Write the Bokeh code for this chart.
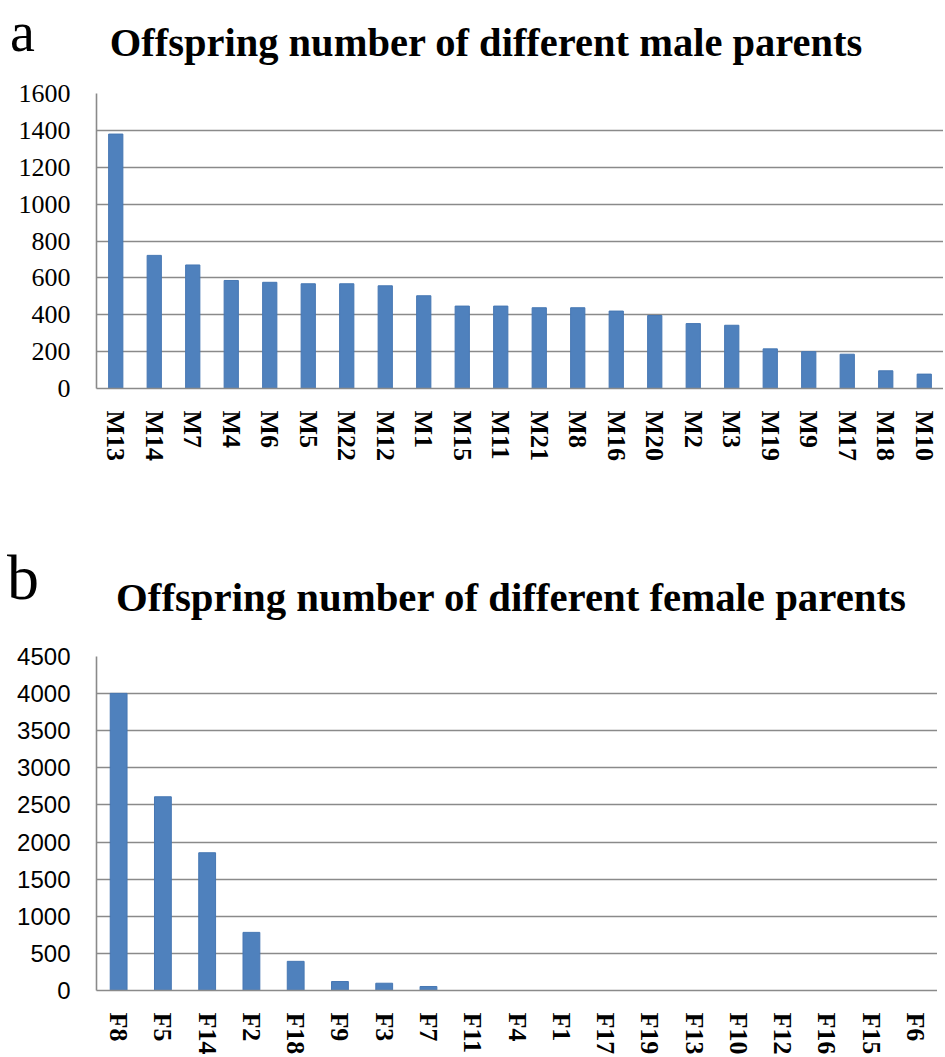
from bokeh.plotting import figure
from bokeh.models import FixedTicker, ColumnDataSource, Div
from bokeh.layouts import column
from bokeh.embed import file_html
from bokeh.resources import INLINE
import math

# ---- data ----
male_parents = ["M13", "M14", "M7", "M4", "M6", "M5", "M22", "M12", "M1", "M15", "M11",
                "M21", "M8", "M16", "M20", "M2", "M3", "M19", "M9", "M17", "M18", "M10"]
male_offspring = [1380, 722, 670, 586, 576, 568, 568, 557, 503, 447, 447,
                  438, 438, 420, 396, 352, 343, 215, 200, 186, 96, 78]
male_ticks = [0, 200, 400, 600, 800, 1000, 1200, 1400, 1600]

female_parents = ["F8", "F5", "F14", "F2", "F18", "F9", "F3", "F7", "F11", "F4", "F1",
                  "F17", "F19", "F13", "F10", "F12", "F16", "F15", "F6"]
female_offspring = [4003, 2610, 1856, 783, 393, 121, 98, 54, 0, 0, 0,
                    0, 0, 0, 0, 0, 0, 0, 0]
female_ticks = [0, 500, 1000, 1500, 2000, 2500, 3000, 3500, 4000, 4500]

title_a = "Offspring number of different male parents"
title_b = "Offspring number of different female parents"

BAR = "#4F81BD"
BAR_EDGE = "#4677B3"
GRID = "#8A8A8A"
SERIF = "Liberation Serif"
SANS = "Liberation Sans"


def header(width, height, panel, title, panel_left, panel_top, panel_size,
           title_center, title_top, title_size):
    html = (
        f'<div style="position:relative;width:{width}px;height:{height}px;overflow:visible;">'
        f'<span style="position:absolute;left:{panel_left}px;top:{panel_top}px;'
        f"font-family:'{SERIF}';font-size:{panel_size}px;line-height:1.107;color:black;"
        f'white-space:nowrap;">{panel}</span>'
        f'<div style="position:absolute;left:{title_center - 420}px;top:{title_top}px;width:840px;'
        f"text-align:center;font-family:'{SERIF}';font-weight:bold;font-size:{title_size}px;line-height:1;"
        f'color:black;white-space:nowrap;">{title}</div>'
        '</div>'
    )
    return Div(text=html, width=width, height=height, margin=0)


def style(p, tick_font, tick_size):
    p.xgrid.grid_line_color = None
    p.ygrid.grid_line_color = GRID
    p.ygrid.grid_line_width = 1.6
    p.outline_line_color = None
    p.background_fill_color = "white"
    p.border_fill_color = "white"
    for ax in (p.xaxis, p.yaxis):
        ax.axis_line_color = GRID
        ax.axis_line_width = 1.6
        ax.major_tick_line_color = None
        ax.minor_tick_line_color = None
        ax.major_tick_out = 0
        ax.major_tick_in = 0
    p.yaxis.major_label_text_font = tick_font
    p.yaxis.major_label_text_font_size = tick_size
    p.yaxis.major_label_text_color = "black"
    p.yaxis.major_label_standoff = 26
    p.xaxis.major_label_text_font = SERIF
    p.xaxis.major_label_text_font_style = "bold"
    p.xaxis.major_label_text_font_size = "26px"
    p.xaxis.major_label_text_color = "black"
    p.xaxis.major_label_orientation = -math.pi / 2
    p.xaxis.major_label_standoff = 22


# ---- top chart ----
h1 = header(943, 70, "a", title_a, 10, 1, 56, 486, 23, 40.5)

p1 = figure(x_range=male_parents, y_range=(0, 1600), width=943, height=470,
            output_backend="svg", toolbar_location=None,
            min_border_left=96, min_border_right=0, min_border_top=23, min_border_bottom=152)
src1 = ColumnDataSource(dict(x=male_parents, y=male_offspring))
p1.vbar(x="x", top="y", width=0.37, source=src1, fill_color=BAR, line_color=BAR_EDGE, line_width=1)
style(p1, SERIF, "26px")
p1.yaxis.ticker = FixedTicker(ticks=male_ticks)

# ---- bottom chart ----
h2 = header(943, 95, "b", title_b, 7, 3, 64, 511, 38, 40.8)

p2 = figure(x_range=female_parents, y_range=(0, 4500), width=937, height=422,
            output_backend="svg", toolbar_location=None,
            min_border_left=96, min_border_right=0, min_border_top=21, min_border_bottom=40)
src2 = ColumnDataSource(dict(x=female_parents, y=female_offspring))
p2.vbar(x="x", top="y", width=0.38, source=src2, fill_color=BAR, line_color=BAR_EDGE, line_width=1)
style(p2, SANS, "24px")
p2.yaxis.ticker = FixedTicker(ticks=female_ticks)

layout = column(h1, p1, h2, p2, spacing=0)
open("out.html", "w").write(file_html(layout, INLINE))
